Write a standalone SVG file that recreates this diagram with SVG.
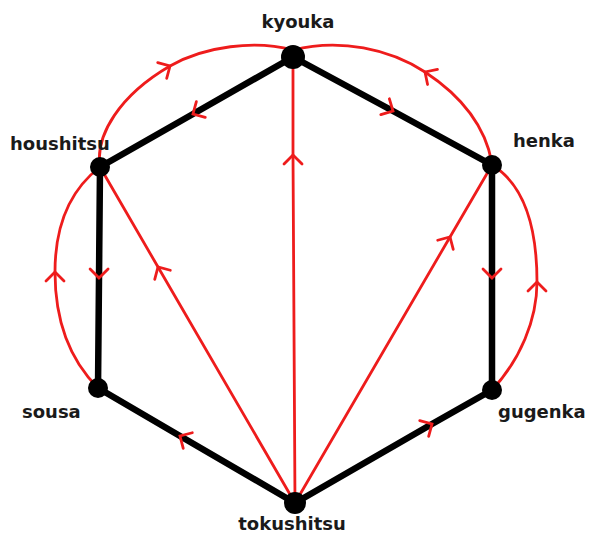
<svg xmlns="http://www.w3.org/2000/svg" width="599" height="537" viewBox="0 0 599 537">
<style>
.lbl{font-family:"DejaVu Sans","Liberation Sans",sans-serif;font-weight:bold;font-size:18px;fill:#1a1a1a}
.edge{fill:none;stroke:#000;stroke-width:6.5;stroke-linecap:round;marker-mid:url(#chev)}
.red{fill:none;stroke:#ee1c1c;stroke-width:2.8;marker-mid:url(#chev)}
.node{fill:#000}
</style>
<defs>
<marker id="chev" markerUnits="userSpaceOnUse" markerWidth="30" markerHeight="30" viewBox="-15 -15 30 30" refX="0" refY="0" orient="auto">
<path d="M-9,-9 L0,0 L-9,9" fill="none" stroke="#ee1c1c" stroke-width="2.8" stroke-linecap="round"/>
</marker>
</defs>
<rect width="599" height="537" fill="#fff"/>
<g id="connectors">
<path class="red" d="M295,503 L293,155 L293,57"/>
<path class="red" d="M295,503 L158,267 L100,167"/>
<path class="red" d="M295,503 L450,237 L492,165"/>
<path class="red" d="M100,167 C95,135 120,95 170,66 C205,46 255,40 293,50"/>
<path class="red" d="M492,163 C485,125 460,95 425,72 C390,49 340,38 293,50"/>
<path class="red" d="M98,388 C70,360 55,320 55,272 C55,225 70,190 100,167"/>
<path class="red" d="M492,390 C520,360 537,320 537,282 C537,230 525,185 492,165"/>
<path class="edge" d="M293,57 L193,114 L100,167"/>
<path class="edge" d="M293,57 L393,111 L492,165"/>
<path class="edge" d="M492,165 L492,278 L492,390"/>
<path class="edge" d="M100,167 L99,278 L98,388"/>
<path class="edge" d="M295,503 L180,436 L98,388"/>
<path class="edge" d="M295,503 L432,424 L492,390"/>
</g>
<g id="kyouka"><circle class="node" cx="293" cy="57" r="12"/><text class="lbl" x="298" y="28" text-anchor="middle">kyouka</text></g>
<g id="henka"><circle class="node" cx="492" cy="165" r="10"/><text class="lbl" x="513" y="147">henka</text></g>
<g id="houshitsu"><circle class="node" cx="100" cy="167" r="10"/><text class="lbl" x="10" y="150">houshitsu</text></g>
<g id="sousa"><circle class="node" cx="98" cy="388" r="10"/><text class="lbl" x="22" y="418">sousa</text></g>
<g id="gugenka"><circle class="node" cx="492" cy="390" r="10"/><text class="lbl" x="498" y="418">gugenka</text></g>
<g id="tokushitsu"><circle class="node" cx="295" cy="503" r="11"/><text class="lbl" x="292" y="530" text-anchor="middle">tokushitsu</text></g>
</svg>
